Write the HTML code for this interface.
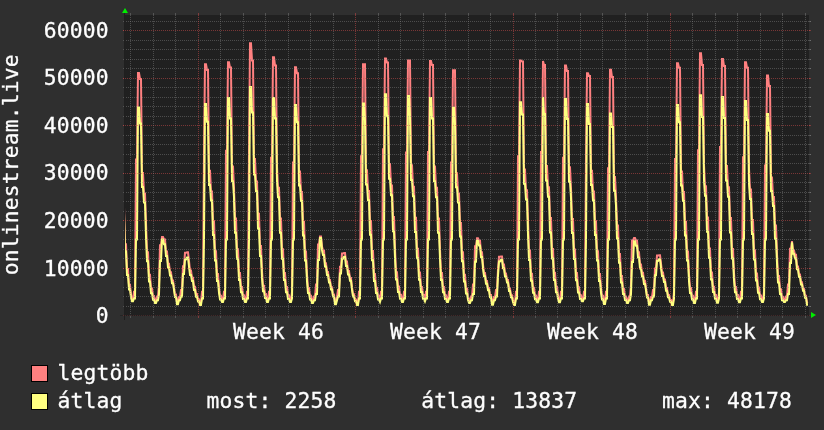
<!DOCTYPE html>
<html lang="hu">
<head>
<meta charset="utf-8">
<title>onlinestream.live</title>
<style>
html,body{margin:0;padding:0;background:#2f2f2f;overflow:hidden}
body{width:824px;height:430px}
svg{display:block}
</style>
</head>
<body>
<svg width="824" height="430" viewBox="0 0 824 430" role="img" aria-label="onlinestream.live">
<rect x="0" y="0" width="824" height="430" fill="#2f2f2f"/>
<rect x="124" y="15" width="685" height="301" fill="#202020"/>
<clipPath id="c"><rect x="124" y="14" width="685" height="303"/></clipPath>
<g clip-path="url(#c)" fill="none" stroke-width="2" stroke-linejoin="miter" stroke-linecap="butt">
<polyline stroke="#ff8080" points="124.0,207.2 125.0,244.2 126.0,244.2 127.0,268.9 128.0,268.9 129.0,285.1 130.0,285.1 131.0,294.6 132.0,299.2 133.0,299.2 134.0,291.8 135.0,291.8 136.0,159.4 137.0,159.4 138.0,73.0 139.0,73.0 140.0,79.0 141.0,79.0 142.0,173.0 143.0,173.0 144.0,193.4 145.0,193.4 146.0,222.8 147.0,252.2 148.0,252.2 149.0,274.8 150.0,274.8 151.0,288.4 152.0,288.4 153.0,296.1 154.0,296.1 155.0,300.9 156.0,300.9 157.0,296.5 158.0,296.5 159.0,284.6 160.0,245.2 161.0,245.2 162.0,237.1 163.0,237.1 164.0,239.5 165.0,239.5 166.0,251.4 167.0,251.4 168.0,263.7 169.0,263.7 170.0,272.3 171.0,272.3 172.0,280.4 173.0,280.4 174.0,287.5 175.0,294.6 176.0,294.6 177.0,302.1 178.0,302.1 179.0,297.0 180.0,297.0 181.0,289.9 182.0,289.9 183.0,266.2 184.0,266.2 185.0,252.8 186.0,252.8 187.0,252.3 188.0,252.3 189.0,260.9 190.0,270.5 191.0,270.5 192.0,277.7 193.0,277.7 194.0,286.8 195.0,286.8 196.0,294.0 197.0,294.0 198.0,299.2 199.0,299.2 200.0,302.9 201.0,302.9 202.0,291.8 203.0,291.8 204.0,154.0 205.0,64.2 206.0,64.2 207.0,69.9 208.0,69.9 209.0,170.8 210.0,170.8 211.0,191.4 212.0,191.4 213.0,221.3 214.0,221.3 215.0,251.2 216.0,251.2 217.0,274.1 218.0,274.1 219.0,287.9 220.0,295.7 221.0,295.7 222.0,299.8 223.0,299.8 224.0,291.8 225.0,291.8 226.0,150.8 227.0,150.8 228.0,62.3 229.0,62.3 230.0,67.6 231.0,67.6 232.0,166.5 233.0,166.5 234.0,187.8 235.0,218.5 236.0,218.5 237.0,249.3 238.0,249.3 239.0,272.9 240.0,272.9 241.0,287.1 242.0,287.1 243.0,295.2 244.0,295.2 245.0,299.8 246.0,299.8 247.0,291.8 248.0,291.8 249.0,151.6 250.0,43.3 251.0,43.3 252.0,60.4 253.0,60.4 254.0,159.0 255.0,159.0 256.0,181.4 257.0,181.4 258.0,213.7 259.0,213.7 260.0,246.0 261.0,246.0 262.0,270.8 263.0,285.7 264.0,285.7 265.0,294.1 266.0,294.1 267.0,299.8 268.0,299.8 269.0,291.8 270.0,291.8 271.0,157.8 272.0,157.8 273.0,57.3 274.0,57.3 275.0,65.4 276.0,65.4 277.0,166.5 278.0,187.8 279.0,187.8 280.0,218.5 281.0,218.5 282.0,249.3 283.0,249.3 284.0,272.9 285.0,272.9 286.0,287.1 287.0,287.1 288.0,295.2 289.0,295.2 290.0,299.8 291.0,299.8 292.0,291.8 293.0,162.6 294.0,162.6 295.0,67.3 296.0,67.3 297.0,73.2 298.0,73.2 299.0,171.4 300.0,171.4 301.0,192.0 302.0,192.0 303.0,221.7 304.0,221.7 305.0,251.5 306.0,251.5 307.0,274.3 308.0,288.1 309.0,288.1 310.0,295.8 311.0,295.8 312.0,300.9 313.0,300.9 314.0,296.5 315.0,296.5 316.0,284.6 317.0,284.6 318.0,244.6 319.0,244.6 320.0,236.4 321.0,236.4 322.0,246.5 323.0,250.8 324.0,250.8 325.0,263.3 326.0,263.3 327.0,271.9 328.0,271.9 329.0,280.0 330.0,280.0 331.0,287.2 332.0,287.2 333.0,294.4 334.0,294.4 335.0,302.1 336.0,302.1 337.0,297.0 338.0,289.9 339.0,289.9 340.0,266.8 341.0,266.8 342.0,253.5 343.0,253.5 344.0,253.0 345.0,253.0 346.0,261.6 347.0,261.6 348.0,271.0 349.0,271.0 350.0,278.1 351.0,278.1 352.0,287.1 353.0,294.2 354.0,294.2 355.0,299.4 356.0,299.4 357.0,302.9 358.0,302.9 359.0,291.8 360.0,291.8 361.0,156.2 362.0,156.2 363.0,64.2 364.0,64.2 365.0,64.2 366.0,170.3 367.0,170.3 368.0,191.0 369.0,191.0 370.0,221.0 371.0,221.0 372.0,251.0 373.0,251.0 374.0,274.0 375.0,274.0 376.0,287.8 377.0,287.8 378.0,295.7 379.0,295.7 380.0,299.8 381.0,291.8 382.0,291.8 383.0,149.2 384.0,149.2 385.0,58.5 386.0,58.5 387.0,62.6 388.0,62.6 389.0,163.9 390.0,163.9 391.0,185.6 392.0,185.6 393.0,216.9 394.0,216.9 395.0,248.1 396.0,272.2 397.0,272.2 398.0,286.6 399.0,286.6 400.0,294.8 401.0,294.8 402.0,299.8 403.0,299.8 404.0,291.8 405.0,291.8 406.0,152.6 407.0,152.6 408.0,60.4 409.0,60.4 410.0,60.4 411.0,165.2 412.0,165.2 413.0,186.7 414.0,186.7 415.0,217.7 416.0,217.7 417.0,248.7 418.0,248.7 419.0,272.6 420.0,272.6 421.0,286.9 422.0,286.9 423.0,295.0 424.0,295.0 425.0,299.2 426.0,291.8 427.0,291.8 428.0,152.1 429.0,152.1 430.0,60.9 431.0,60.9 432.0,64.9 433.0,64.9 434.0,166.5 435.0,166.5 436.0,187.8 437.0,187.8 438.0,218.5 439.0,218.5 440.0,249.3 441.0,272.9 442.0,272.9 443.0,287.1 444.0,287.1 445.0,295.2 446.0,295.2 447.0,299.8 448.0,299.8 449.0,291.8 450.0,291.8 451.0,162.6 452.0,162.6 453.0,70.2 454.0,70.2 455.0,70.2 456.0,173.2 457.0,173.2 458.0,193.5 459.0,193.5 460.0,222.9 461.0,222.9 462.0,252.3 463.0,252.3 464.0,274.8 465.0,274.8 466.0,288.4 467.0,288.4 468.0,296.1 469.0,300.9 470.0,300.9 471.0,296.5 472.0,296.5 473.0,284.6 474.0,284.6 475.0,246.3 476.0,246.3 477.0,238.3 478.0,238.3 479.0,240.7 480.0,240.7 481.0,252.3 482.0,252.3 483.0,264.5 484.0,272.9 485.0,272.9 486.0,280.9 487.0,280.9 488.0,287.9 489.0,287.9 490.0,294.9 491.0,294.9 492.0,302.7 493.0,302.7 494.0,297.0 495.0,297.0 496.0,289.9 497.0,289.9 498.0,269.4 499.0,256.8 500.0,256.8 501.0,256.4 502.0,256.4 503.0,264.4 504.0,264.4 505.0,273.4 506.0,273.4 507.0,280.1 508.0,280.1 509.0,288.6 510.0,288.6 511.0,295.3 512.0,295.3 513.0,300.3 514.0,302.9 515.0,302.9 516.0,291.8 517.0,291.8 518.0,156.2 519.0,156.2 520.0,60.4 521.0,60.4 522.0,61.4 523.0,61.4 524.0,169.5 525.0,169.5 526.0,190.3 527.0,190.3 528.0,220.5 529.0,250.6 530.0,250.6 531.0,273.8 532.0,273.8 533.0,287.7 534.0,287.7 535.0,295.6 536.0,295.6 537.0,300.1 538.0,300.1 539.0,291.8 540.0,291.8 541.0,152.1 542.0,152.1 543.0,60.9 544.0,64.9 545.0,64.9 546.0,165.9 547.0,165.9 548.0,187.2 549.0,187.2 550.0,218.1 551.0,218.1 552.0,249.0 553.0,249.0 554.0,272.8 555.0,272.8 556.0,287.0 557.0,287.0 558.0,295.1 559.0,300.1 560.0,300.1 561.0,291.8 562.0,291.8 563.0,157.8 564.0,157.8 565.0,65.4 566.0,65.4 567.0,70.9 568.0,70.9 569.0,167.2 570.0,167.2 571.0,188.4 572.0,219.0 573.0,219.0 574.0,249.6 575.0,249.6 576.0,273.1 577.0,273.1 578.0,287.2 579.0,287.2 580.0,295.3 581.0,295.3 582.0,299.2 583.0,299.2 584.0,291.8 585.0,291.8 586.0,157.1 587.0,73.2 588.0,73.2 589.0,76.1 590.0,76.1 591.0,170.8 592.0,170.8 593.0,191.4 594.0,191.4 595.0,221.3 596.0,221.3 597.0,251.2 598.0,251.2 599.0,274.1 600.0,274.1 601.0,287.9 602.0,295.7 603.0,295.7 604.0,302.0 605.0,302.0 606.0,291.8 607.0,291.8 608.0,168.2 609.0,168.2 610.0,69.7 611.0,69.7 612.0,77.1 613.0,77.1 614.0,177.1 615.0,177.1 616.0,196.9 617.0,225.4 618.0,225.4 619.0,254.0 620.0,254.0 621.0,276.0 622.0,276.0 623.0,289.1 624.0,289.1 625.0,296.6 626.0,296.6 627.0,300.9 628.0,300.9 629.0,296.5 630.0,296.5 631.0,284.6 632.0,240.4 633.0,240.4 634.0,238.1 635.0,238.1 636.0,240.4 637.0,240.4 638.0,252.2 639.0,252.2 640.0,264.4 641.0,264.4 642.0,272.8 643.0,272.8 644.0,280.8 645.0,280.8 646.0,287.8 647.0,294.9 648.0,294.9 649.0,302.7 650.0,302.7 651.0,297.0 652.0,297.0 653.0,289.9 654.0,289.9 655.0,268.4 656.0,268.4 657.0,255.6 658.0,255.6 659.0,255.2 660.0,255.2 661.0,263.4 662.0,272.5 663.0,272.5 664.0,279.4 665.0,279.4 666.0,288.1 667.0,288.1 668.0,294.9 669.0,294.9 670.0,300.0 671.0,300.0 672.0,302.9 673.0,302.9 674.0,291.8 675.0,159.0 676.0,159.0 677.0,63.3 678.0,63.3 679.0,67.8 680.0,67.8 681.0,171.4 682.0,171.4 683.0,192.0 684.0,192.0 685.0,221.7 686.0,221.7 687.0,251.5 688.0,251.5 689.0,274.3 690.0,288.1 691.0,288.1 692.0,295.8 693.0,295.8 694.0,300.9 695.0,300.9 696.0,291.8 697.0,291.8 698.0,150.2 699.0,150.2 700.0,53.3 701.0,53.3 702.0,64.9 703.0,64.9 704.0,164.7 705.0,186.3 706.0,186.3 707.0,217.4 708.0,217.4 709.0,248.5 710.0,248.5 711.0,272.4 712.0,272.4 713.0,286.8 714.0,286.8 715.0,294.9 716.0,294.9 717.0,300.5 718.0,300.5 719.0,291.8 720.0,146.9 721.0,146.9 722.0,59.0 723.0,59.0 724.0,66.1 725.0,66.1 726.0,165.9 727.0,165.9 728.0,187.2 729.0,187.2 730.0,218.1 731.0,218.1 732.0,249.0 733.0,249.0 734.0,272.8 735.0,287.0 736.0,287.0 737.0,295.1 738.0,295.1 739.0,300.1 740.0,300.1 741.0,291.8 742.0,291.8 743.0,157.3 744.0,157.3 745.0,62.3 746.0,62.3 747.0,67.8 748.0,67.8 749.0,168.6 750.0,189.6 751.0,189.6 752.0,219.9 753.0,219.9 754.0,250.2 755.0,250.2 756.0,273.5 757.0,273.5 758.0,287.5 759.0,287.5 760.0,295.5 761.0,295.5 762.0,299.8 763.0,299.8 764.0,291.8 765.0,165.4 766.0,165.4 767.0,75.4 768.0,75.4 769.0,86.1 770.0,86.1 771.0,177.4 772.0,177.4 773.0,197.1 774.0,197.1 775.0,225.6 776.0,225.6 777.0,254.1 778.0,276.0 779.0,276.0 780.0,289.2 781.0,289.2 782.0,296.7 783.0,296.7 784.0,299.8 785.0,299.8 786.0,296.5 787.0,296.5 788.0,284.6 789.0,284.6 790.0,248.8 791.0,248.8 792.0,241.2 793.0,250.6 794.0,250.6 795.0,254.7 796.0,254.7 797.0,266.4 798.0,266.4 799.0,274.5 800.0,274.5 801.0,282.2 802.0,282.2 803.0,288.9 804.0,288.9 805.0,295.7 806.0,295.7 807.0,302.6 808.0,302.9"/>
<polyline stroke="#ffff80" points="124.0,213.4 125.0,251.4 126.0,251.4 127.0,275.1 128.0,275.1 129.0,289.4 130.0,289.4 131.0,297.4 132.0,301.3 133.0,301.3 134.0,298.4 135.0,298.4 136.0,239.5 137.0,239.5 138.0,107.5 139.0,107.5 140.0,123.6 141.0,123.6 142.0,187.1 143.0,187.1 144.0,202.4 145.0,202.4 146.0,236.4 147.0,261.2 148.0,261.2 149.0,281.6 150.0,281.6 151.0,293.3 152.0,293.3 153.0,299.7 154.0,299.7 155.0,303.0 156.0,303.0 157.0,300.3 158.0,300.3 159.0,294.1 160.0,260.9 161.0,260.9 162.0,239.5 163.0,239.5 164.0,244.2 165.0,244.2 166.0,256.1 167.0,256.1 168.0,267.5 169.0,267.5 170.0,275.6 171.0,275.6 172.0,283.2 173.0,283.2 174.0,289.9 175.0,297.0 176.0,297.0 177.0,304.2 178.0,304.2 179.0,300.3 180.0,300.3 181.0,296.5 182.0,296.5 183.0,274.0 184.0,274.0 185.0,259.4 186.0,259.4 187.0,257.6 188.0,257.6 189.0,266.5 190.0,275.0 191.0,275.0 192.0,281.1 193.0,281.1 194.0,290.1 195.0,290.1 196.0,296.7 197.0,296.7 198.0,301.4 199.0,301.4 200.0,305.0 201.0,305.0 202.0,298.4 203.0,298.4 204.0,239.5 205.0,104.1 206.0,104.1 207.0,121.8 208.0,121.8 209.0,185.0 210.0,185.0 211.0,200.6 212.0,200.6 213.0,235.1 214.0,235.1 215.0,260.4 216.0,260.4 217.0,281.0 218.0,281.0 219.0,293.0 220.0,299.4 221.0,299.4 222.0,301.9 223.0,301.9 224.0,298.4 225.0,298.4 226.0,239.5 227.0,239.5 228.0,98.0 229.0,98.0 230.0,118.4 231.0,118.4 232.0,181.2 233.0,181.2 234.0,197.3 235.0,232.7 236.0,232.7 237.0,258.7 238.0,258.7 239.0,280.0 240.0,280.0 241.0,292.3 242.0,292.3 243.0,298.9 244.0,298.9 245.0,301.9 246.0,301.9 247.0,298.4 248.0,298.4 249.0,239.5 250.0,87.0 251.0,87.0 252.0,112.4 253.0,112.4 254.0,174.4 255.0,174.4 256.0,191.3 257.0,191.3 258.0,228.6 259.0,228.6 260.0,255.9 261.0,255.9 262.0,278.2 263.0,291.2 264.0,291.2 265.0,298.1 266.0,298.1 267.0,301.9 268.0,301.9 269.0,298.4 270.0,298.4 271.0,239.5 272.0,239.5 273.0,98.0 274.0,98.0 275.0,118.4 276.0,118.4 277.0,181.2 278.0,197.3 279.0,197.3 280.0,232.7 281.0,232.7 282.0,258.7 283.0,258.7 284.0,280.0 285.0,280.0 286.0,292.3 287.0,292.3 288.0,298.9 289.0,298.9 290.0,301.9 291.0,301.9 292.0,298.4 293.0,239.5 294.0,239.5 295.0,105.1 296.0,105.1 297.0,122.3 298.0,122.3 299.0,185.6 300.0,185.6 301.0,201.1 302.0,201.1 303.0,235.4 304.0,235.4 305.0,260.6 306.0,260.6 307.0,281.2 308.0,293.1 309.0,293.1 310.0,299.5 311.0,299.5 312.0,303.0 313.0,303.0 314.0,300.3 315.0,300.3 316.0,294.1 317.0,294.1 318.0,259.9 319.0,259.9 320.0,238.1 321.0,238.1 322.0,250.2 323.0,255.0 324.0,255.0 325.0,266.6 326.0,266.6 327.0,274.9 328.0,274.9 329.0,282.6 330.0,282.6 331.0,289.4 332.0,289.4 333.0,296.6 334.0,296.6 335.0,304.2 336.0,304.2 337.0,300.3 338.0,296.5 339.0,296.5 340.0,273.5 341.0,273.5 342.0,258.7 343.0,258.7 344.0,256.8 345.0,256.8 346.0,265.9 347.0,265.9 348.0,274.5 349.0,274.5 350.0,280.7 351.0,280.7 352.0,289.7 353.0,296.4 354.0,296.4 355.0,301.2 356.0,301.2 357.0,305.0 358.0,305.0 359.0,298.4 360.0,298.4 361.0,239.5 362.0,239.5 363.0,103.4 364.0,103.4 365.0,121.4 366.0,184.6 367.0,184.6 368.0,200.2 369.0,200.2 370.0,234.8 371.0,234.8 372.0,260.2 373.0,260.2 374.0,280.9 375.0,280.9 376.0,292.9 377.0,292.9 378.0,299.4 379.0,299.4 380.0,301.9 381.0,298.4 382.0,298.4 383.0,239.5 384.0,239.5 385.0,94.2 386.0,94.2 387.0,116.3 388.0,116.3 389.0,178.8 390.0,178.8 391.0,195.2 392.0,195.2 393.0,231.3 394.0,231.3 395.0,257.8 396.0,279.4 397.0,279.4 398.0,291.9 399.0,291.9 400.0,298.7 401.0,298.7 402.0,301.9 403.0,301.9 404.0,298.4 405.0,298.4 406.0,239.5 407.0,239.5 408.0,96.1 409.0,96.1 410.0,117.4 411.0,180.0 412.0,180.0 413.0,196.2 414.0,196.2 415.0,232.0 416.0,232.0 417.0,258.3 418.0,258.3 419.0,279.7 420.0,279.7 421.0,292.1 422.0,292.1 423.0,298.8 424.0,298.8 425.0,301.3 426.0,298.4 427.0,298.4 428.0,239.5 429.0,239.5 430.0,98.0 431.0,98.0 432.0,118.4 433.0,118.4 434.0,181.2 435.0,181.2 436.0,197.3 437.0,197.3 438.0,232.7 439.0,232.7 440.0,258.7 441.0,280.0 442.0,280.0 443.0,292.3 444.0,292.3 445.0,298.9 446.0,298.9 447.0,301.9 448.0,301.9 449.0,298.4 450.0,298.4 451.0,239.5 452.0,239.5 453.0,107.7 454.0,107.7 455.0,123.8 456.0,187.2 457.0,187.2 458.0,202.6 459.0,202.6 460.0,236.4 461.0,236.4 462.0,261.3 463.0,261.3 464.0,281.6 465.0,281.6 466.0,293.4 467.0,293.4 468.0,299.7 469.0,303.0 470.0,303.0 471.0,300.3 472.0,300.3 473.0,294.1 474.0,294.1 475.0,261.7 476.0,261.7 477.0,240.7 478.0,240.7 479.0,245.4 480.0,245.4 481.0,257.1 482.0,257.1 483.0,268.3 484.0,276.2 485.0,276.2 486.0,283.7 487.0,283.7 488.0,290.3 489.0,290.3 490.0,297.3 491.0,297.3 492.0,304.8 493.0,304.8 494.0,300.3 495.0,300.3 496.0,296.5 497.0,296.5 498.0,275.6 499.0,261.5 500.0,261.5 501.0,259.7 502.0,259.7 503.0,268.3 504.0,268.3 505.0,276.5 506.0,276.5 507.0,282.4 508.0,282.4 509.0,291.0 510.0,291.0 511.0,297.3 512.0,297.3 513.0,301.9 514.0,305.0 515.0,305.0 516.0,298.4 517.0,298.4 518.0,239.5 519.0,239.5 520.0,102.2 521.0,102.2 522.0,114.6 523.0,114.6 524.0,183.8 525.0,183.8 526.0,199.6 527.0,199.6 528.0,234.4 529.0,259.9 530.0,259.9 531.0,280.7 532.0,280.7 533.0,292.8 534.0,292.8 535.0,299.3 536.0,299.3 537.0,302.2 538.0,302.2 539.0,298.4 540.0,298.4 541.0,239.5 542.0,239.5 543.0,97.0 544.0,114.1 545.0,114.1 546.0,180.6 547.0,180.6 548.0,196.8 549.0,196.8 550.0,232.4 551.0,232.4 552.0,258.5 553.0,258.5 554.0,279.9 555.0,279.9 556.0,292.2 557.0,292.2 558.0,298.9 559.0,302.2 560.0,302.2 561.0,298.4 562.0,298.4 563.0,239.5 564.0,239.5 565.0,98.9 566.0,98.9 567.0,118.9 568.0,118.9 569.0,181.8 570.0,181.8 571.0,197.8 572.0,233.1 573.0,233.1 574.0,259.0 575.0,259.0 576.0,280.2 577.0,280.2 578.0,292.4 579.0,292.4 580.0,299.0 581.0,299.0 582.0,301.3 583.0,301.3 584.0,298.4 585.0,298.4 586.0,239.5 587.0,104.1 588.0,104.1 589.0,124.1 590.0,124.1 591.0,185.0 592.0,185.0 593.0,200.6 594.0,200.6 595.0,235.1 596.0,235.1 597.0,260.4 598.0,260.4 599.0,281.0 600.0,281.0 601.0,293.0 602.0,299.4 603.0,299.4 604.0,304.1 605.0,304.1 606.0,298.4 607.0,298.4 608.0,239.5 609.0,239.5 610.0,113.4 611.0,113.4 612.0,126.9 613.0,126.9 614.0,190.7 615.0,190.7 616.0,205.7 617.0,238.6 618.0,238.6 619.0,262.8 620.0,262.8 621.0,282.5 622.0,282.5 623.0,294.0 624.0,294.0 625.0,300.1 626.0,300.1 627.0,303.0 628.0,303.0 629.0,300.3 630.0,300.3 631.0,294.1 632.0,262.1 633.0,262.1 634.0,241.2 635.0,241.2 636.0,245.8 637.0,245.8 638.0,257.4 639.0,257.4 640.0,268.6 641.0,268.6 642.0,276.5 643.0,276.5 644.0,283.9 645.0,283.9 646.0,290.4 647.0,297.4 648.0,297.4 649.0,304.8 650.0,304.8 651.0,300.3 652.0,300.3 653.0,296.5 654.0,296.5 655.0,275.2 656.0,275.2 657.0,261.0 658.0,261.0 659.0,259.2 660.0,259.2 661.0,267.9 662.0,276.1 663.0,276.1 664.0,282.1 665.0,282.1 666.0,290.8 667.0,290.8 668.0,297.2 669.0,297.2 670.0,301.8 671.0,301.8 672.0,305.0 673.0,305.0 674.0,298.4 675.0,239.5 676.0,239.5 677.0,105.1 678.0,105.1 679.0,122.3 680.0,122.3 681.0,185.6 682.0,185.6 683.0,201.1 684.0,201.1 685.0,235.4 686.0,235.4 687.0,260.6 688.0,260.6 689.0,281.2 690.0,293.1 691.0,293.1 692.0,299.5 693.0,299.5 694.0,303.0 695.0,303.0 696.0,298.4 697.0,298.4 698.0,239.5 699.0,239.5 700.0,95.3 701.0,95.3 702.0,117.0 703.0,117.0 704.0,179.6 705.0,195.8 706.0,195.8 707.0,231.7 708.0,231.7 709.0,258.1 710.0,258.1 711.0,279.6 712.0,279.6 713.0,292.0 714.0,292.0 715.0,298.7 716.0,298.7 717.0,302.7 718.0,302.7 719.0,298.4 720.0,239.5 721.0,239.5 722.0,97.0 723.0,97.0 724.0,117.9 725.0,117.9 726.0,180.6 727.0,180.6 728.0,196.8 729.0,196.8 730.0,232.4 731.0,232.4 732.0,258.5 733.0,258.5 734.0,279.9 735.0,292.2 736.0,292.2 737.0,298.9 738.0,298.9 739.0,302.2 740.0,302.2 741.0,298.4 742.0,298.4 743.0,239.5 744.0,239.5 745.0,101.0 746.0,101.0 747.0,120.1 748.0,120.1 749.0,183.1 750.0,198.9 751.0,198.9 752.0,233.9 753.0,233.9 754.0,259.6 755.0,259.6 756.0,280.5 757.0,280.5 758.0,292.7 759.0,292.7 760.0,299.2 761.0,299.2 762.0,301.9 763.0,301.9 764.0,298.4 765.0,239.5 766.0,239.5 767.0,113.9 768.0,113.9 769.0,130.7 770.0,130.7 771.0,191.0 772.0,191.0 773.0,205.9 774.0,205.9 775.0,238.8 776.0,238.8 777.0,262.9 778.0,282.6 779.0,282.6 780.0,294.0 781.0,294.0 782.0,300.2 783.0,300.2 784.0,301.9 785.0,301.9 786.0,300.3 787.0,300.3 788.0,294.1 789.0,294.1 790.0,262.9 791.0,262.9 792.0,242.4 793.0,253.8 794.0,253.8 795.0,258.4 796.0,258.4 797.0,269.3 798.0,269.3 799.0,277.1 800.0,277.1 801.0,284.4 802.0,284.4 803.0,290.8 804.0,290.8 805.0,297.7 806.0,297.7 807.0,304.8 808.0,304.8"/>
</g>
<g shape-rendering="crispEdges" fill="none" stroke-width="1">
<path d="M123 315.5H811" stroke="rgba(222,79,79,0.47)" stroke-dasharray="1 1"/>
<path d="M123 315.5H124M809 315.5H811" stroke="rgba(222,79,79,0.47)"/>
<path d="M124 306.5H811" stroke="rgba(143,143,143,0.40)" stroke-dasharray="1 1"/>
<path d="M123 306.5H124M809 306.5H811" stroke="rgba(143,143,143,0.40)"/>
<path d="M124 296.5H811" stroke="rgba(143,143,143,0.40)" stroke-dasharray="1 1"/>
<path d="M123 296.5H124M809 296.5H811" stroke="rgba(143,143,143,0.40)"/>
<path d="M124 287.5H811" stroke="rgba(143,143,143,0.40)" stroke-dasharray="1 1"/>
<path d="M123 287.5H124M809 287.5H811" stroke="rgba(143,143,143,0.40)"/>
<path d="M124 277.5H811" stroke="rgba(143,143,143,0.40)" stroke-dasharray="1 1"/>
<path d="M123 277.5H124M809 277.5H811" stroke="rgba(143,143,143,0.40)"/>
<path d="M123 268.5H811" stroke="rgba(222,79,79,0.47)" stroke-dasharray="1 1"/>
<path d="M123 268.5H124M809 268.5H811" stroke="rgba(222,79,79,0.47)"/>
<path d="M124 258.5H811" stroke="rgba(143,143,143,0.40)" stroke-dasharray="1 1"/>
<path d="M123 258.5H124M809 258.5H811" stroke="rgba(143,143,143,0.40)"/>
<path d="M124 249.5H811" stroke="rgba(143,143,143,0.40)" stroke-dasharray="1 1"/>
<path d="M123 249.5H124M809 249.5H811" stroke="rgba(143,143,143,0.40)"/>
<path d="M124 239.5H811" stroke="rgba(143,143,143,0.40)" stroke-dasharray="1 1"/>
<path d="M123 239.5H124M809 239.5H811" stroke="rgba(143,143,143,0.40)"/>
<path d="M124 230.5H811" stroke="rgba(143,143,143,0.40)" stroke-dasharray="1 1"/>
<path d="M123 230.5H124M809 230.5H811" stroke="rgba(143,143,143,0.40)"/>
<path d="M123 220.5H811" stroke="rgba(222,79,79,0.47)" stroke-dasharray="1 1"/>
<path d="M123 220.5H124M809 220.5H811" stroke="rgba(222,79,79,0.47)"/>
<path d="M124 211.5H811" stroke="rgba(143,143,143,0.40)" stroke-dasharray="1 1"/>
<path d="M123 211.5H124M809 211.5H811" stroke="rgba(143,143,143,0.40)"/>
<path d="M124 201.5H811" stroke="rgba(143,143,143,0.40)" stroke-dasharray="1 1"/>
<path d="M123 201.5H124M809 201.5H811" stroke="rgba(143,143,143,0.40)"/>
<path d="M124 192.5H811" stroke="rgba(143,143,143,0.40)" stroke-dasharray="1 1"/>
<path d="M123 192.5H124M809 192.5H811" stroke="rgba(143,143,143,0.40)"/>
<path d="M124 182.5H811" stroke="rgba(143,143,143,0.40)" stroke-dasharray="1 1"/>
<path d="M123 182.5H124M809 182.5H811" stroke="rgba(143,143,143,0.40)"/>
<path d="M123 173.5H811" stroke="rgba(222,79,79,0.47)" stroke-dasharray="1 1"/>
<path d="M123 173.5H124M809 173.5H811" stroke="rgba(222,79,79,0.47)"/>
<path d="M124 163.5H811" stroke="rgba(143,143,143,0.40)" stroke-dasharray="1 1"/>
<path d="M123 163.5H124M809 163.5H811" stroke="rgba(143,143,143,0.40)"/>
<path d="M124 154.5H811" stroke="rgba(143,143,143,0.40)" stroke-dasharray="1 1"/>
<path d="M123 154.5H124M809 154.5H811" stroke="rgba(143,143,143,0.40)"/>
<path d="M124 144.5H811" stroke="rgba(143,143,143,0.40)" stroke-dasharray="1 1"/>
<path d="M123 144.5H124M809 144.5H811" stroke="rgba(143,143,143,0.40)"/>
<path d="M124 135.5H811" stroke="rgba(143,143,143,0.40)" stroke-dasharray="1 1"/>
<path d="M123 135.5H124M809 135.5H811" stroke="rgba(143,143,143,0.40)"/>
<path d="M123 125.5H811" stroke="rgba(222,79,79,0.47)" stroke-dasharray="1 1"/>
<path d="M123 125.5H124M809 125.5H811" stroke="rgba(222,79,79,0.47)"/>
<path d="M124 116.5H811" stroke="rgba(143,143,143,0.40)" stroke-dasharray="1 1"/>
<path d="M123 116.5H124M809 116.5H811" stroke="rgba(143,143,143,0.40)"/>
<path d="M124 106.5H811" stroke="rgba(143,143,143,0.40)" stroke-dasharray="1 1"/>
<path d="M123 106.5H124M809 106.5H811" stroke="rgba(143,143,143,0.40)"/>
<path d="M124 97.5H811" stroke="rgba(143,143,143,0.40)" stroke-dasharray="1 1"/>
<path d="M123 97.5H124M809 97.5H811" stroke="rgba(143,143,143,0.40)"/>
<path d="M124 87.5H811" stroke="rgba(143,143,143,0.40)" stroke-dasharray="1 1"/>
<path d="M123 87.5H124M809 87.5H811" stroke="rgba(143,143,143,0.40)"/>
<path d="M123 78.5H811" stroke="rgba(222,79,79,0.47)" stroke-dasharray="1 1"/>
<path d="M123 78.5H124M809 78.5H811" stroke="rgba(222,79,79,0.47)"/>
<path d="M124 68.5H811" stroke="rgba(143,143,143,0.40)" stroke-dasharray="1 1"/>
<path d="M123 68.5H124M809 68.5H811" stroke="rgba(143,143,143,0.40)"/>
<path d="M124 59.5H811" stroke="rgba(143,143,143,0.40)" stroke-dasharray="1 1"/>
<path d="M123 59.5H124M809 59.5H811" stroke="rgba(143,143,143,0.40)"/>
<path d="M124 49.5H811" stroke="rgba(143,143,143,0.40)" stroke-dasharray="1 1"/>
<path d="M123 49.5H124M809 49.5H811" stroke="rgba(143,143,143,0.40)"/>
<path d="M124 40.5H811" stroke="rgba(143,143,143,0.40)" stroke-dasharray="1 1"/>
<path d="M123 40.5H124M809 40.5H811" stroke="rgba(143,143,143,0.40)"/>
<path d="M123 30.5H811" stroke="rgba(222,79,79,0.47)" stroke-dasharray="1 1"/>
<path d="M123 30.5H124M809 30.5H811" stroke="rgba(222,79,79,0.47)"/>
<path d="M124 21.5H811" stroke="rgba(143,143,143,0.40)" stroke-dasharray="1 1"/>
<path d="M123 21.5H124M809 21.5H811" stroke="rgba(143,143,143,0.40)"/>
<path d="M130.5 15V316" stroke="rgba(143,143,143,0.40)" stroke-dasharray="1 1"/>
<path d="M130.5 13V15M130.5 316V318" stroke="rgba(143,143,143,0.40)"/>
<path d="M153.5 15V316" stroke="rgba(143,143,143,0.40)" stroke-dasharray="1 1"/>
<path d="M153.5 13V15M153.5 316V318" stroke="rgba(143,143,143,0.40)"/>
<path d="M175.5 15V316" stroke="rgba(143,143,143,0.40)" stroke-dasharray="1 1"/>
<path d="M175.5 13V15M175.5 316V318" stroke="rgba(143,143,143,0.40)"/>
<path d="M198.5 15V316" stroke="rgba(222,79,79,0.47)" stroke-dasharray="1 1"/>
<path d="M198.5 13V15M198.5 316V318" stroke="rgba(222,79,79,0.47)"/>
<path d="M220.5 15V316" stroke="rgba(143,143,143,0.40)" stroke-dasharray="1 1"/>
<path d="M220.5 13V15M220.5 316V318" stroke="rgba(143,143,143,0.40)"/>
<path d="M243.5 15V316" stroke="rgba(143,143,143,0.40)" stroke-dasharray="1 1"/>
<path d="M243.5 13V15M243.5 316V318" stroke="rgba(143,143,143,0.40)"/>
<path d="M265.5 15V316" stroke="rgba(143,143,143,0.40)" stroke-dasharray="1 1"/>
<path d="M265.5 13V15M265.5 316V318" stroke="rgba(143,143,143,0.40)"/>
<path d="M288.5 15V316" stroke="rgba(143,143,143,0.40)" stroke-dasharray="1 1"/>
<path d="M288.5 13V15M288.5 316V318" stroke="rgba(143,143,143,0.40)"/>
<path d="M310.5 15V316" stroke="rgba(143,143,143,0.40)" stroke-dasharray="1 1"/>
<path d="M310.5 13V15M310.5 316V318" stroke="rgba(143,143,143,0.40)"/>
<path d="M333.5 15V316" stroke="rgba(143,143,143,0.40)" stroke-dasharray="1 1"/>
<path d="M333.5 13V15M333.5 316V318" stroke="rgba(143,143,143,0.40)"/>
<path d="M355.5 15V316" stroke="rgba(222,79,79,0.47)" stroke-dasharray="1 1"/>
<path d="M355.5 13V15M355.5 316V318" stroke="rgba(222,79,79,0.47)"/>
<path d="M378.5 15V316" stroke="rgba(143,143,143,0.40)" stroke-dasharray="1 1"/>
<path d="M378.5 13V15M378.5 316V318" stroke="rgba(143,143,143,0.40)"/>
<path d="M400.5 15V316" stroke="rgba(143,143,143,0.40)" stroke-dasharray="1 1"/>
<path d="M400.5 13V15M400.5 316V318" stroke="rgba(143,143,143,0.40)"/>
<path d="M423.5 15V316" stroke="rgba(143,143,143,0.40)" stroke-dasharray="1 1"/>
<path d="M423.5 13V15M423.5 316V318" stroke="rgba(143,143,143,0.40)"/>
<path d="M445.5 15V316" stroke="rgba(143,143,143,0.40)" stroke-dasharray="1 1"/>
<path d="M445.5 13V15M445.5 316V318" stroke="rgba(143,143,143,0.40)"/>
<path d="M468.5 15V316" stroke="rgba(143,143,143,0.40)" stroke-dasharray="1 1"/>
<path d="M468.5 13V15M468.5 316V318" stroke="rgba(143,143,143,0.40)"/>
<path d="M490.5 15V316" stroke="rgba(143,143,143,0.40)" stroke-dasharray="1 1"/>
<path d="M490.5 13V15M490.5 316V318" stroke="rgba(143,143,143,0.40)"/>
<path d="M513.5 15V316" stroke="rgba(222,79,79,0.47)" stroke-dasharray="1 1"/>
<path d="M513.5 13V15M513.5 316V318" stroke="rgba(222,79,79,0.47)"/>
<path d="M535.5 15V316" stroke="rgba(143,143,143,0.40)" stroke-dasharray="1 1"/>
<path d="M535.5 13V15M535.5 316V318" stroke="rgba(143,143,143,0.40)"/>
<path d="M557.5 15V316" stroke="rgba(143,143,143,0.40)" stroke-dasharray="1 1"/>
<path d="M557.5 13V15M557.5 316V318" stroke="rgba(143,143,143,0.40)"/>
<path d="M580.5 15V316" stroke="rgba(143,143,143,0.40)" stroke-dasharray="1 1"/>
<path d="M580.5 13V15M580.5 316V318" stroke="rgba(143,143,143,0.40)"/>
<path d="M602.5 15V316" stroke="rgba(143,143,143,0.40)" stroke-dasharray="1 1"/>
<path d="M602.5 13V15M602.5 316V318" stroke="rgba(143,143,143,0.40)"/>
<path d="M625.5 15V316" stroke="rgba(143,143,143,0.40)" stroke-dasharray="1 1"/>
<path d="M625.5 13V15M625.5 316V318" stroke="rgba(143,143,143,0.40)"/>
<path d="M647.5 15V316" stroke="rgba(143,143,143,0.40)" stroke-dasharray="1 1"/>
<path d="M647.5 13V15M647.5 316V318" stroke="rgba(143,143,143,0.40)"/>
<path d="M670.5 15V316" stroke="rgba(222,79,79,0.47)" stroke-dasharray="1 1"/>
<path d="M670.5 13V15M670.5 316V318" stroke="rgba(222,79,79,0.47)"/>
<path d="M692.5 15V316" stroke="rgba(143,143,143,0.40)" stroke-dasharray="1 1"/>
<path d="M692.5 13V15M692.5 316V318" stroke="rgba(143,143,143,0.40)"/>
<path d="M715.5 15V316" stroke="rgba(143,143,143,0.40)" stroke-dasharray="1 1"/>
<path d="M715.5 13V15M715.5 316V318" stroke="rgba(143,143,143,0.40)"/>
<path d="M737.5 15V316" stroke="rgba(143,143,143,0.40)" stroke-dasharray="1 1"/>
<path d="M737.5 13V15M737.5 316V318" stroke="rgba(143,143,143,0.40)"/>
<path d="M760.5 15V316" stroke="rgba(143,143,143,0.40)" stroke-dasharray="1 1"/>
<path d="M760.5 13V15M760.5 316V318" stroke="rgba(143,143,143,0.40)"/>
<path d="M782.5 15V316" stroke="rgba(143,143,143,0.40)" stroke-dasharray="1 1"/>
<path d="M782.5 13V15M782.5 316V318" stroke="rgba(143,143,143,0.40)"/>
<path d="M805.5 15V316" stroke="rgba(143,143,143,0.40)" stroke-dasharray="1 1"/>
<path d="M805.5 13V15M805.5 316V318" stroke="rgba(143,143,143,0.40)"/>
<path d="M120 315.5H813" stroke="#1f1f1f" stroke-opacity="0.6"/>
<path d="M124.5 11V320" stroke="#1f1f1f"/>
</g>
<polygon points="122,13 128,13 125,8" fill="#00ee00"/>
<polygon points="811,312 811,318 816,315" fill="#00ee00"/>
<g font-family="'DejaVu Sans Mono','Liberation Mono',monospace" font-size="21.33px" fill="#ffffff" stroke="#ffffff" stroke-width="0.3" letter-spacing="0.16" style="opacity:.999">
<text x="108.8" y="322.6" text-anchor="end">0</text>
<text x="108.8" y="275.9" text-anchor="end">10000</text>
<text x="108.8" y="227.6" text-anchor="end">20000</text>
<text x="108.8" y="180.1" text-anchor="end">30000</text>
<text x="108.8" y="132.6" text-anchor="end">40000</text>
<text x="108.8" y="85.1" text-anchor="end">50000</text>
<text x="108.8" y="37.6" text-anchor="end">60000</text>
<text x="278.5" y="339" text-anchor="middle" xml:space="preserve">Week 46</text>
<text x="435.5" y="339" text-anchor="middle" xml:space="preserve">Week 47</text>
<text x="592.5" y="339" text-anchor="middle" xml:space="preserve">Week 48</text>
<text x="749.5" y="339" text-anchor="middle" xml:space="preserve">Week 49</text>
<text transform="translate(18.2,275.3) rotate(-90)">onlinestream.live</text>
<text x="57.5" y="380.2">legtöbb</text>
<text x="57.5" y="407.8">átlag</text>
<text x="206.5" y="407.8" xml:space="preserve">most: 2258</text>
<text x="421.2" y="407.8" xml:space="preserve">átlag: 13837</text>
<text x="661.9" y="407.8" xml:space="preserve">max: 48178</text>
</g>
<rect x="31.5" y="365.5" width="16" height="16" fill="#ff8080" stroke="#000" stroke-width="1" shape-rendering="crispEdges"/>
<rect x="31.5" y="393.5" width="16" height="16" fill="#ffff80" stroke="#000" stroke-width="1" shape-rendering="crispEdges"/>
</svg>
</body>
</html>
